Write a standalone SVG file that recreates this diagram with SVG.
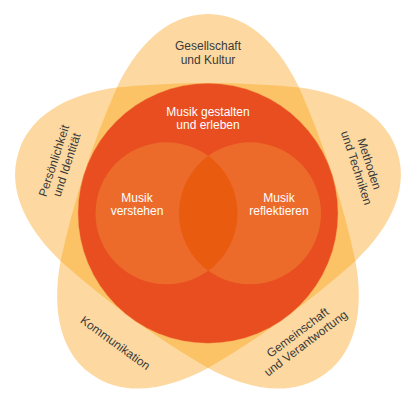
<svg xmlns="http://www.w3.org/2000/svg" width="420" height="413" viewBox="0 0 420 413">
<style>
.star{fill:#FDD9A1}
.band{fill:#FBC366}
.big{fill:#E84E1F;stroke:#F7A35A;stroke-width:0.6;stroke-opacity:0.6}
.inner{fill:#ED6B2A}
.lens{fill:#E95B0F}
.t{font-family:"Liberation Sans",Arial,Helvetica,sans-serif;font-size:12px;text-anchor:middle}
.dk{fill:#3a3a3a}
.wt{fill:#ffffff}
</style>
<rect width="420" height="413" fill="#ffffff"/>
<g id="petals">
<path class="star" d="M116.89,87.6 C134.03,51.46 164,14 208,14 C252,14 281.97,51.46 299.11,87.6 C338.77,92.73 383.66,109.66 397.26,151.51 C410.86,193.36 384.49,233.43 355.41,260.9 C362.79,300.21 360.57,348.14 324.97,374 C289.37,399.86 243.11,387.17 208,368 C172.89,387.17 126.63,399.86 91.03,374 C55.43,348.14 53.21,300.21 60.59,260.9 C31.51,233.43 5.14,193.36 18.74,151.51 C32.34,109.66 77.23,92.73 116.89,87.6 Z"/>
<path class="band" d="M116.89,87.6 Q208,78.4 299.11,87.6 Q336.01,171.41 355.41,260.9 Q287.12,321.89 208,368 Q128.88,321.89 60.59,260.9 Q79.99,171.41 116.89,87.6 Z"/>
</g>
<g id="gestalten">
<circle class="big" cx="208" cy="213.3" r="130"/>
</g>
<g id="verstehen">
<circle class="inner" cx="166.5" cy="213.3" r="71"/>
</g>
<g id="reflektieren">
<circle class="inner" cx="250" cy="213.3" r="71"/>
</g>
<g id="schnitt">
<path class="lens" d="M208.25,155.87 A71,71 0 0 1 208.25,270.73 A71,71 0 0 1 208.25,155.87 Z"/>
</g>
<g id="connectors"></g>
<g id="labels">
<g id="label-gesellschaft" class="t dk">
<text x="208" y="50.4">Gesellschaft</text>
<text x="208" y="63.6">und Kultur</text>
</g>
<g id="label-gestalten" class="t wt">
<text x="208" y="116.2">Musik gestalten</text>
<text x="208" y="129.2">und erleben</text>
</g>
<g id="label-verstehen" class="t wt">
<text x="137" y="201.8">Musik</text>
<text x="137" y="214.8">verstehen</text>
</g>
<g id="label-reflektieren" class="t wt">
<text x="279" y="201.8">Musik</text>
<text x="279" y="214.8">reflektieren</text>
</g>
<g id="label-persoenlichkeit" class="t dk" transform="translate(60.4,162.8) rotate(-72)">
<text x="0" y="-2.7">Persönlichkeit</text>
<text x="0" y="10.7">und Identität</text>
</g>
<g id="label-methoden" class="t dk" transform="translate(362.9,165.9) rotate(72)">
<text x="0" y="-2.7">Methoden</text>
<text x="0" y="10.7">und Techniken</text>
</g>
<g id="label-gemeinschaft" class="t dk" transform="translate(301.7,337.9) rotate(-37)">
<text x="0" y="-2.7">Gemeinschaft</text>
<text x="0" y="10.7">und Verantwortung</text>
</g>
<g id="label-kommunikation" class="t dk" transform="translate(115.2,343) rotate(36)">
<text x="0" y="4">Kommunikation</text>
</g>
</g>
</svg>
